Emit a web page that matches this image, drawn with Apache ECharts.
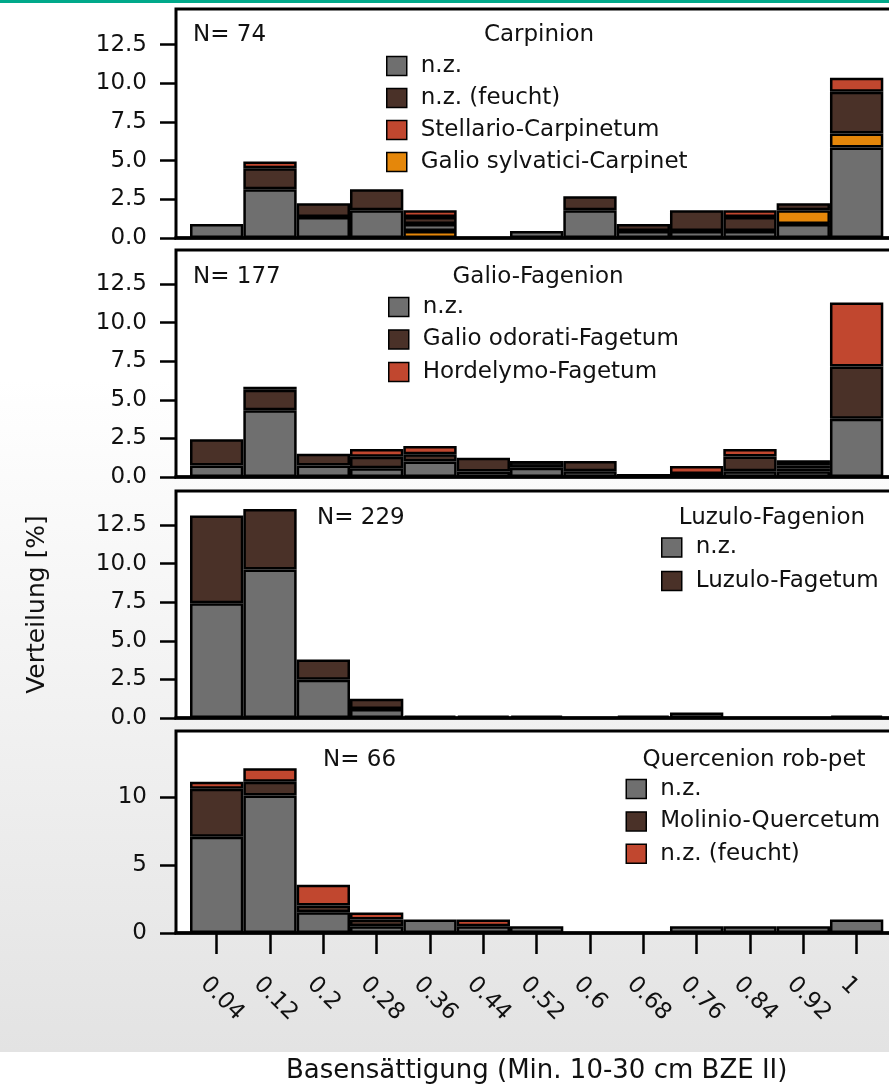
<!DOCTYPE html>
<html><head><meta charset="utf-8">
<script src="https://cdn.jsdelivr.net/npm/echarts@6/dist/echarts.min.js"></script>
<style>
html,body{margin:0;padding:0;background:#fff;}
#bg{position:absolute;left:0;top:0;width:889px;height:1052px;background:linear-gradient(to bottom,#ffffff 0px,#ffffff 380px,#e3e3e3 1052px);}
#chart{position:absolute;left:0;top:0;width:889px;height:1087px;}
</style></head><body>
<div id="bg"></div><div id="chart"></div>
<script>
// ---- categories / tick labels ----
const categories = ['0.04','0.12','0.2','0.28','0.36','0.44','0.52','0.6','0.68','0.76','0.84','0.92','1'];
const yTicksPct = [0, 2.5, 5, 7.5, 10, 12.5];
const yTicksQuerc = [0, 5, 10];

// ---- Panel 1: Carpinion (N=74) ----
const carpGalioSylvBelow = [0,0,0,0,0.45,0,0,0,0,0,0,0,0];
const carpNZ            = [0.9,3.15,1.35,1.8,0.45,0,0.45,1.8,0.45,0.45,0.45,0.9,5.85];
const carpGalioSylv     = [0,0,0,0,0,0,0,0,0,0,0,0.9,0.9];
const carpNZFeucht      = [0,1.35,0.9,1.35,0.45,0,0,0.9,0.45,1.35,0.9,0.45,2.7];
const carpStellario     = [0,0.45,0,0,0.45,0,0,0,0,0,0.45,0,0.9];

// ---- Panel 2: Galio-Fagenion (N=177) ----
const galNZ        = [0.75,4.33,0.75,0.56,1.0,0.35,0.6,0.38,0,0,0.38,0.38,3.77];
const galOdorati   = [1.70,1.32,0.75,0.75,0.47,0.9,0,0.65,0.19,0,0.94,0.19,3.39];
const galSonstige  = [0,0.19,0,0,0,0,0.43,0,0,0.19,0,0.19,0];
const galHordelymo = [0,0,0,0.5,0.53,0,0,0,0,0.52,0.5,0.32,4.14];

// ---- Panel 3: Luzulo-Fagenion (N=229) ----
const luzNZ      = [7.43,9.61,2.48,0.58,0,0,0.15,0,0,0.36,0,0,0];
const luzFagetum = [5.68,3.93,1.31,0.66,0.15,0.15,0,0,0.15,0,0,0,0.15];

// ---- Panel 4: Quercenion rob-pet (N=66) ----
const quNZ       = [7.07,10.1,1.52,0.5,1.0,0.5,0.5,0,0,0.5,0.5,0.5,1.0];
const quMolinio  = [3.54,1.01,0.5,0.5,0,0,0,0,0,0,0,0,0];
const quNZFeucht = [0.5,1.01,1.52,0.5,0,0.5,0,0,0,0,0,0,0];

// ---- styling ----
const FONT = '"DejaVu Sans", sans-serif';
const TXT = '#111';
const GRAY = '#6f6f6f', DARK = '#4a3128', RED = '#c1472f', ORANGE = '#e5870a', BLACK = '#151515';

const panels = [
  {top: 9,   bottom: 238, max: 14.8,  ticks: yTicksPct,   dec: 1},
  {top: 250, bottom: 477, max: 14.7,  ticks: yTicksPct,   dec: 1},
  {top: 491, bottom: 718, max: 14.7,  ticks: yTicksPct,   dec: 1},
  {top: 731, bottom: 933, max: 14.85, ticks: yTicksQuerc, dec: 0}
];
const PLOT_LEFT = 190, PLOT_W = 693.3, FRAME_LEFT = 176, FRAME_RIGHT = 906;

const grids = panels.map(p => ({left: PLOT_LEFT, width: PLOT_W, top: p.top, height: p.bottom - p.top, containLabel: false}));

const xAxes = panels.map((p, i) => {
  const last = i === panels.length - 1;
  return {
    gridIndex: i, type: 'category', data: categories, boundaryGap: true,
    axisLine: {show: false},
    axisTick: {show: last, alignWithLabel: true, length: 21, lineStyle: {color: '#000', width: 2.5}},
    axisLabel: {show: last, interval: 0, rotate: -45, margin: 35, align: 'left', verticalAlign: 'top',
                lineHeight: 36, fontFamily: FONT, fontSize: 23, color: TXT},
    splitLine: {show: false},
    name: last ? 'Basensättigung (Min. 10-30 cm BZE II)' : '',
    nameLocation: 'middle', nameGap: 125,
    nameTextStyle: {fontFamily: FONT, fontSize: 26, color: TXT}
  };
});

const yAxes = panels.map((p, i) => ({
  gridIndex: i, type: 'value', min: 0, max: p.max, offset: PLOT_LEFT - FRAME_LEFT,
  axisLine: {show: false}, splitLine: {show: false},
  axisTick: {show: true, inside: false, length: 16, lineStyle: {color: '#000', width: 2.5}, customValues: p.ticks},
  axisLabel: {show: true, margin: 29, fontFamily: FONT, fontSize: 23, color: TXT, customValues: p.ticks,
              formatter: v => Number(v).toFixed(p.dec)},
  name: i === 2 ? 'Verteilung [%]' : '', nameLocation: 'middle', nameRotate: 90, nameGap: 126,
  nameTextStyle: {fontFamily: FONT, fontSize: 25, color: TXT}
}));

function bar(name, values, color, idx) {
  return {
    type: 'bar', name: name, xAxisIndex: idx, yAxisIndex: idx, stack: 'panel' + idx,
    barCategoryGap: '0%', barGap: '0%',
    data: values.map(v => (v === 0 ? null : v)),
    itemStyle: {color: color, borderColor: '#000', borderWidth: 2.5},
    emphasis: {disabled: true}, silent: true
  };
}

const series = [
  bar('Galio sylvatici-Carpinet', carpGalioSylvBelow, ORANGE, 0),
  bar('n.z.', carpNZ, GRAY, 0),
  bar('Galio sylvatici-Carpinet', carpGalioSylv, ORANGE, 0),
  bar('n.z. (feucht)', carpNZFeucht, DARK, 0),
  bar('Stellario-Carpinetum', carpStellario, RED, 0),

  bar('n.z.', galNZ, GRAY, 1),
  bar('Galio odorati-Fagetum', galOdorati, DARK, 1),
  bar('sonstige', galSonstige, BLACK, 1),
  bar('Hordelymo-Fagetum', galHordelymo, RED, 1),

  bar('n.z.', luzNZ, GRAY, 2),
  bar('Luzulo-Fagetum', luzFagetum, DARK, 2),

  bar('n.z.', quNZ, GRAY, 3),
  bar('Molinio-Quercetum', quMolinio, DARK, 3),
  bar('n.z. (feucht)', quNZFeucht, RED, 3)
];

function legend(left, top, gap, items) {
  return {
    orient: 'vertical', left: left, top: top, padding: 0, itemWidth: 20, itemHeight: 19, itemGap: gap,
    icon: 'rect', selectedMode: false,
    textStyle: {fontFamily: FONT, fontSize: 23, color: TXT, padding: [0, 0, 0, 9]},
    itemStyle: {borderColor: '#000', borderWidth: 1.5},
    data: items.map(it => ({name: it[0], itemStyle: {color: it[1], borderColor: '#000', borderWidth: 1.5}}))
  };
}
const legends = [
  legend(386, 54.5, 9, [['n.z.', GRAY], ['n.z. (feucht)', DARK], ['Stellario-Carpinetum', RED], ['Galio sylvatici-Carpinet', ORANGE]]),
  legend(388, 295.5, 9.5, [['n.z.', GRAY], ['Galio odorati-Fagetum', DARK], ['Hordelymo-Fagetum', RED]]),
  legend(661, 536, 10.5, [['n.z.', GRAY], ['Luzulo-Fagetum', DARK]]),
  legend(625.5, 777.5, 9.4, [['n.z.', GRAY], ['Molinio-Quercetum', DARK], ['n.z. (feucht)', RED]])
];

const panelTexts = [
  {text: 'N= 74', x: 193, y: 35, align: 'left'},
  {text: 'Carpinion', x: 539, y: 35, align: 'center'},
  {text: 'N= 177', x: 193, y: 277, align: 'left'},
  {text: 'Galio-Fagenion', x: 538, y: 277, align: 'center'},
  {text: 'N= 229', x: 317, y: 518, align: 'left'},
  {text: 'Luzulo-Fagenion', x: 772, y: 518, align: 'center'},
  {text: 'N= 66', x: 323, y: 760, align: 'left'},
  {text: 'Quercenion rob-pet', x: 754, y: 760, align: 'center'}
];

const graphics = [];
graphics.push({type: 'rect', z: 50, shape: {x: 0, y: 0, width: 889, height: 3}, style: {fill: '#00a98a'}});
panels.forEach(p => {
  graphics.push({type: 'rect', z: -5, shape: {x: FRAME_LEFT, y: p.top, width: FRAME_RIGHT - FRAME_LEFT, height: p.bottom - p.top},
                 style: {fill: '#fff', stroke: '#000', lineWidth: 3}});
  graphics.push({type: 'line', z: 60, shape: {x1: FRAME_LEFT - 1.5, y1: p.bottom, x2: FRAME_RIGHT, y2: p.bottom},
                 style: {stroke: '#000', lineWidth: 3.5}});
});
panelTexts.forEach(t => {
  graphics.push({type: 'text', z: 60, x: t.x, y: t.y,
    style: {text: t.text, fill: TXT, fontFamily: FONT, fontSize: 23, align: t.align, verticalAlign: 'middle'}});
});

const chart = echarts.init(document.getElementById('chart'), null, {renderer: 'canvas'});
chart.setOption({
  animation: false,
  backgroundColor: 'transparent',
  grid: grids, xAxis: xAxes, yAxis: yAxes, series: series, legend: legends,
  graphic: {elements: graphics}
});
</script>
</body></html>
